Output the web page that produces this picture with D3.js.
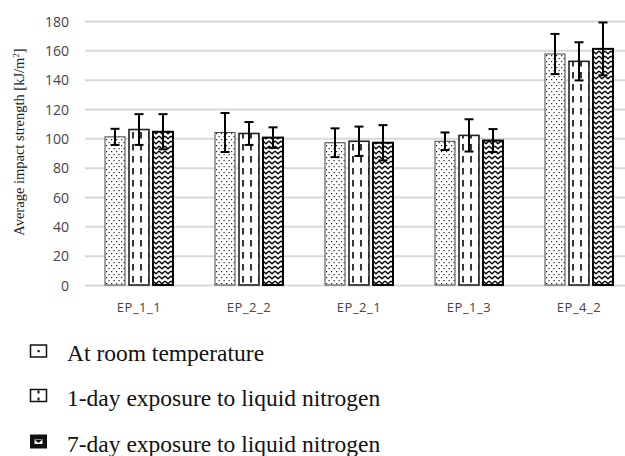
<!DOCTYPE html>
<html>
<head>
<meta charset="utf-8">
<script src="https://cdn.jsdelivr.net/npm/d3@7/dist/d3.min.js"></script>
<style>
  html, body { margin: 0; padding: 0; background: #fff; }
  svg { display: block; }
</style>
</head>
<body>
<svg id="chart" width="625" height="456"></svg>
<script>
const categories = ["EP_1_1", "EP_2_2", "EP_2_1", "EP_1_3", "EP_4_2"];
const seriesNames = ["At room temperature", "1-day exposure to liquid nitrogen", "7-day exposure to liquid nitrogen"];
const roomTemp = [101, 104, 97, 98, 157.5];
const day1 = [106, 103.3, 98, 102, 152.5];
const day7 = [104.5, 100.5, 97, 98.5, 161];
const errRoom = [5.5, 13.3, 9.8, 6, 13.7];
const errDay1 = [10.5, 7.8, 10, 11, 13];
const errDay7 = [12, 7, 12, 7.8, 18];
const yTicks = [0, 20, 40, 60, 80, 100, 120, 140, 160, 180];

const values = [roomTemp, day1, day7];
const errors = [errRoom, errDay1, errDay7];

const svg = d3.select("#chart");
const defs = svg.append("defs");

// pattern: dots
const p1 = defs.append("pattern").attr("id", "pDots").attr("patternUnits", "userSpaceOnUse")
  .attr("width", 5).attr("height", 6);
p1.append("rect").attr("width", 5).attr("height", 6).attr("fill", "#fff");
p1.append("rect").attr("x", 1).attr("y", 1).attr("width", 1.2).attr("height", 1.2).attr("fill", "#222");
p1.append("rect").attr("x", 3.5).attr("y", 4).attr("width", 1.2).attr("height", 1.2).attr("fill", "#222");

// pattern: dashed vertical
const p2 = defs.append("pattern").attr("id", "pDash").attr("patternUnits", "userSpaceOnUse")
  .attr("width", 8).attr("height", 12).attr("x", 0);
p2.append("rect").attr("width", 8).attr("height", 12).attr("fill", "#fff");
p2.append("line").attr("x1", 4).attr("x2", 4).attr("y1", 0).attr("y2", 6.5).attr("stroke", "#111").attr("stroke-width", 1.7);

// pattern: zigzag
const p3 = defs.append("pattern").attr("id", "pZig").attr("patternUnits", "userSpaceOnUse")
  .attr("width", 6).attr("height", 5);
p3.append("rect").attr("width", 6).attr("height", 5).attr("fill", "#fff");
p3.append("path").attr("d", "M0,1 L3,3.8 L6,1").attr("fill", "none").attr("stroke", "#000").attr("stroke-width", 1.3);

const fills = ["url(#pDots)", "url(#pDash)", "url(#pZig)"];
const strokes = ["#444", "#222", "#000"];
const strokeW = [1, 1.6, 2];

const y = d3.scaleLinear().domain([0, 180]).range([285, 21]);
const x0 = d3.scaleBand().domain(categories).range([84, 634]).paddingInner(0.382).paddingOuter(0.191);
const x1 = d3.scaleBand().domain([0, 1, 2]).range([0, x0.bandwidth()]).paddingInner(0.1667).paddingOuter(0);

// gridlines
const yAxis = d3.axisLeft(y).tickValues(yTicks).tickSize(-(625 - 85)).tickPadding(16);
const gy = svg.append("g").attr("transform", "translate(85,0)").call(yAxis);
gy.select(".domain").remove();
gy.selectAll(".tick line").attr("stroke", "#d9d9d9").attr("stroke-width", 2);
gy.selectAll(".tick text").attr("font-family", "'Open Sans', 'Noto Sans', sans-serif")
  .attr("font-size", 14).attr("fill", "#444").attr("dy", "0.36em");

// bars
const groups = svg.append("g").selectAll("g").data(categories).join("g")
  .attr("transform", d => `translate(${x0(d)},0)`);

groups.each(function(cat, ci) {
  const g = d3.select(this);
  [0, 1, 2].forEach(si => {
    const v = values[si][ci];
    g.append("rect")
      .attr("x", x1(si)).attr("y", y(v))
      .attr("width", x1.bandwidth()).attr("height", y(0) - y(v))
      .attr("fill", fills[si]).attr("stroke", strokes[si]).attr("stroke-width", strokeW[si]);
  });
  [0, 1, 2].forEach(si => {
    const v = values[si][ci], e = errors[si][ci];
    const cx = x1(si) + x1.bandwidth() / 2;
    g.append("line").attr("x1", cx).attr("x2", cx).attr("y1", y(v + e)).attr("y2", y(v - e))
      .attr("stroke", "#000").attr("stroke-width", 2);
    [v + e, v - e].forEach(t => {
      g.append("line").attr("x1", cx - 4.5).attr("x2", cx + 4.5).attr("y1", y(t)).attr("y2", y(t))
        .attr("stroke", "#000").attr("stroke-width", 2);
    });
  });
});

// x axis labels
const xAxis = d3.axisBottom(x0).tickSize(0).tickPadding(18);
const gx = svg.append("g").attr("transform", "translate(0,285)").call(xAxis);
gx.select(".domain").remove();
gx.selectAll(".tick text").attr("font-family", "'Open Sans', 'Noto Sans', sans-serif")
  .attr("font-size", 13).attr("fill", "#444").attr("letter-spacing", "0.5px");

// y title
svg.append("text")
  .attr("transform", "translate(24,142) rotate(-90)")
  .attr("text-anchor", "middle")
  .attr("font-family", "'Liberation Serif', 'Times New Roman', serif")
  .attr("font-size", 14.5).attr("fill", "#222")
  .html("Average impact strength [kJ/m<tspan baseline-shift='super' font-size='9'>2</tspan>]");

// legend
const legendY = [361, 405.5, 451.5];
const lg = svg.append("g").selectAll("g").data(seriesNames).join("g")
  .attr("transform", (d, i) => `translate(0,${legendY[i]})`);
lg.append("text").attr("x", 67).attr("y", 0)
  .attr("font-family", "'Liberation Serif', 'Times New Roman', serif")
  .attr("font-size", 23.5).attr("fill", "#111").text(d => d);

// legend icons
lg.each(function(d, i) {
  const g = d3.select(this);
  if (i === 0) {
    g.append("rect").attr("x", 30.5).attr("y", -16).attr("width", 16).attr("height", 12)
      .attr("fill", "#fff").attr("stroke", "#111").attr("stroke-width", 1.5);
    g.append("rect").attr("x", 37.5).attr("y", -11).attr("width", 2.2).attr("height", 2.2).attr("fill", "#111");
  } else if (i === 1) {
    g.append("rect").attr("x", 30.5).attr("y", -16).attr("width", 16).attr("height", 12)
      .attr("fill", "#fff").attr("stroke", "#111").attr("stroke-width", 1.5);
    g.append("rect").attr("x", 37.5).attr("y", -15).attr("width", 2).attr("height", 3).attr("fill", "#111");
    g.append("rect").attr("x", 37.5).attr("y", -8).attr("width", 2).attr("height", 3).attr("fill", "#111");
  } else {
    g.append("rect").attr("x", 30).attr("y", -17).attr("width", 17).attr("height", 14).attr("fill", "#111");
    g.append("path").attr("d", "M34,-13 L43,-13 L43,-7 L34,-7 Z M35,-12 L38.5,-9 L42,-12")
      .attr("fill", "#fff").attr("stroke", "#111").attr("stroke-width", 1);
  }
});
</script>
</body>
</html>
